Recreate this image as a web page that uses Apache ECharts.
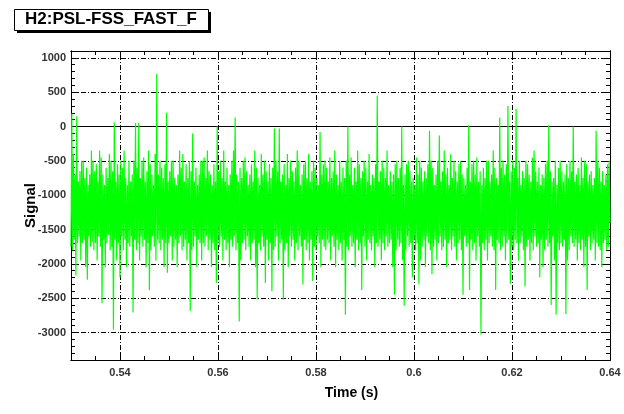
<!DOCTYPE html>
<html>
<head>
<meta charset="utf-8">
<script src="https://cdn.jsdelivr.net/npm/echarts@6/dist/echarts.min.js"></script>
<style>
  html, body { margin: 0; padding: 0; background: #fff; }
  #chart { width: 624px; height: 414px; }
</style>
</head>
<body>
<div id="chart"></div>
<script>
  // time window of the trace (s)
  const tStart = 0.53;
  const tEnd = 0.64;

  // signal samples, evenly spaced from tStart to tEnd
  const signal = [
    -1750, 190, -1800, -400, -1650, -700, -2170, 150, -1700, -800,
    -1600, -650, -1950, -500, -1700, -500, -1650, -750, -2050, -600,
    -2230, -850, -1600, -700, -1750, -350, -1680, -500, -1800, -650,
    -1700, -550, -1950, -800, -1600, -350, -1750, -450, -2570, -700,
    -1650, -850, -2050, -600, -1700, -750, -1580, -400, -1800, -500,
    -1750, -650, -2960, 60, -1650, -800, -1950, -550, -1700, -700,
    -2200, -500, -1600, -600, -1800, -350, -1650, -750, -2050, -850,
    -1700, -500, -1750, -800, -1600, -700, -2710, -500, -1650, 50,
    -1800, -600, -1700, 50, -1950, -750, -1600, -500, -1750, -450,
    -1650, -800, -2050, -650, -1700, -350, -2380, -550, -1800, -700,
    -1600, -850, -1750, -400, -1950, 770, -1650, -700, -1700, -500,
    -1800, -600, -1650, -750, -2050, -550, -1700, 200, -2130, -800,
    -1700, -650, -1600, -500, -1950, -500, -1750, -750, -1650, -850,
    -2050, -700, -1700, -350, -1600, -600, -1800, -400, -1750, -800,
    -1650, -550, -1950, -750, -1700, -500, -2690, -650, -1800, -100,
    -1750, -800, -1600, -600, -2050, -850, -1650, -700, -1700, -500,
    -1950, -500, -1700, -450, -1750, -750, -1600, -350, -1800, -650,
    -1650, -700, -2050, -850, -1700, -550, -1800, -800, -2280, 0,
    -1700, -650, -1750, -500, -1600, -750, -1950, -350, -1650, -800,
    -1800, -600, -1700, -850, -2050, -700, -1650, -500, -1750, -350,
    -1600, 130, -1800, -700, -1700, -800, -2840, -600, -1950, -750,
    -1700, -500, -1650, -450, -1800, -650, -1600, -850, -1750, -700,
    -1950, -550, -1700, -800, -1650, -350, -2050, -600, -2520, -750,
    -1700, -850, -1800, -400, -1600, -700, -1750, -500, -2280, -650,
    -1650, -800, -1950, -550, -1700, -750, -2400, -600, -1800, -30,
    -1750, -500, -1600, -650, -1950, -30, -1700, -800, -1650, -700,
    -2520, -550, -1800, -850, -1700, -400, -2050, -750, -1600, -500,
    -1750, -650, -1650, -800, -1950, -600, -1700, -350, -1800, -500,
    -1600, -850, -1750, -700, -2300, -550, -1650, -500, -1800, -750,
    -1700, -400, -1950, -800, -1650, -650, -2250, -500, -1750, -600,
    -1800, -750, -1600, -850, -1700, -80, -2050, -700, -1650, -550,
    -1750, -500, -1800, -600, -1650, -800, -1700, -450, -1950, -750,
    -1600, -650, -1750, -350, -2050, -700, -1650, -850, -1800, -500,
    -1700, -800, -1950, -600, -1650, -750, -2740, -500, -1750, 0,
    -1800, -700, -1600, -450, -1750, -850, -1700, -600, -2050, -800,
    -1650, -350, -1800, -550, -1700, -750, -2380, -650, -1600, -500,
    -1750, -600, -1950, -800, -1650, -400, -1700, -850, -1800, -700,
    -1600, -750, -2050, -550, -1700, 450, -1750, -800, -1650, -650,
    -1950, -500, -1700, -600, -1800, -750, -1600, -350, -1750, -850,
    -1700, -650, -1650, -800, -2050, -700, -2450, -550, -1800, -500,
    -1650, -750, -1750, -600, -1700, 0, -1950, -850, -2610, -700,
    -1800, -550, -1600, -500, -1750, -650, -1700, -800, -2200, -750,
    -1650, -850, -1800, -450, -1700, -700, -2300, -500, -1950, -600,
    -1750, -800, -1650, -650, -2050, -750, -1600, -550, -1700, -60,
    -1800, -500, -2150, -600, -1750, -850, -1650, -700, -1950, -500,
    -1700, -130, -1600, -800, -1800, -650, -1750, -350, -1650, -700,
    -2050, -600, -1700, -850, -1650, -400, -1800, -750, -1600, -500,
    -1750, -650, -1950, -800, -1700, -550, -1650, -500, -1800, -700,
    -2450, -750, -1600, -850, -1750, -600, -1700, 20, -2380, -800,
    -1650, -550, -1800, -500, -1700, -700, -1950, -450, -1600, -800,
    -1750, -650, -3030, -850, -1700, -600, -1800, -750, -1650, -500,
    -1950, -500, -1700, -800, -1600, -700, -1750, -350, -1800, -600,
    -2380, -750, -1650, -850, -1700, 130, -1800, -600, -1750, -500,
    -1600, -700, -1950, -550, -1700, 300, -1650, -800, -2290, -650,
    -1750, -500, -1800, -600, -1650, 260, -1700, -750, -1950, -500,
    -1700, -850, -1600, -650, -1800, -750, -2330, -500, -1750, -550,
    -1650, -700, -1950, -800, -1700, -450, -1800, -350, -1600, -650,
    -1750, -800, -1700, -600, -2200, -850, -1650, -700, -2050, -750,
    -1800, -550, -1650, -500, -1750, 20, -1700, -650, -2600, -800,
    -1600, -750, -1950, -500, -2740, -850, -1700, -600, -1800, -500,
    -1700, -650, -1750, -800, -1650, -700, -2730, -550, -1950, -750,
    -1800, -500, -1600, -650, -1700, 0, -1750, -800, -1650, -700,
    -1950, -600, -1700, -850, -1800, -450, -1650, -750, -2050, -500,
    -1750, -550, -2380, -800, -1600, -700, -1800, -650, -1700, -850,
    -1650, -750, -1950, -60, -1700, -500, -1750, -600, -1800, -800,
    -2050, -650, -1700, -850, -1650, -700, -1800, -550, -1750, -500,
    -1400
  ];

  // axis ticks / labels
  const xLabels = [0.54, 0.56, 0.58, 0.6, 0.62, 0.64];
  const xMajor = [0.54, 0.56, 0.58, 0.6, 0.62];
  const xMinor = [0.535, 0.54, 0.545, 0.55, 0.555, 0.56, 0.565, 0.57, 0.575, 0.58,
                  0.585, 0.59, 0.595, 0.6, 0.605, 0.61, 0.615, 0.62, 0.625, 0.63, 0.635];
  const yLabels = [-3000, -2500, -2000, -1500, -1000, -500, 0, 500, 1000];
  const yMinor = [-3300, -3200, -3100, -3000, -2900, -2800, -2700, -2600, -2500, -2400,
                  -2300, -2200, -2100, -2000, -1900, -1800, -1700, -1600, -1500, -1400,
                  -1300, -1200, -1100, -1000, -900, -800, -700, -600, -500, -400,
                  -300, -200, -100, 0, 100, 200, 300, 400, 500, 600, 700, 800, 900, 1000];

  const yMin = -3400;
  const yMax = 1100;

  const font = 'Liberation Sans, Arial, Helvetica, sans-serif';
  const dashed = [5, 2, 1, 2];

  const myChart = echarts.init(document.getElementById('chart'), null, { renderer: 'canvas' });

  const dt = (tEnd - tStart) / (signal.length - 1);
  const points = signal.map((v, i) => [tStart + i * dt, v]);

  function xAxisDef(pos, values, len, labels) {
    return {
      type: 'value', position: pos, min: tStart, max: tEnd,
      axisLine: { show: true, onZero: false, lineStyle: { color: '#000', width: 1 } },
      axisTick: { show: true, inside: true, length: len, customValues: values,
        lineStyle: { color: '#000', width: 1 } },
      axisLabel: labels ? {
        show: true, customValues: labels, margin: 7,
        color: '#333', fontSize: 11, fontWeight: 'bold', fontFamily: font,
        formatter: (v) => String(+v.toFixed(2)),
      } : { show: false },
      splitLine: { show: false },
    };
  }

  function yAxisDef(pos, values, len, labels) {
    return {
      type: 'value', position: pos, min: yMin, max: yMax,
      axisLine: { show: true, onZero: false, lineStyle: { color: '#000', width: 1 } },
      axisTick: { show: true, inside: true, length: len, customValues: values,
        lineStyle: { color: '#000', width: 1 } },
      axisLabel: labels ? {
        show: true, customValues: labels, margin: 5,
        color: '#333', fontSize: 11, fontWeight: 'bold', fontFamily: font,
        formatter: (v) => String(v),
      } : { show: false },
      splitLine: { show: false },
    };
  }

  const xa = xAxisDef('bottom', xMinor, 4, xLabels);
  xa.name = 'Time (s)';
  xa.nameLocation = 'middle';
  xa.nameGap = 26;
  xa.nameMoveOverlap = false;
  xa.nameTextStyle = { fontSize: 14, fontWeight: 'bold', color: '#000', fontFamily: font, padding: [0, 0, 0, 22] };

  const ya = yAxisDef('left', yMinor, 4, yLabels);
  ya.name = 'Signal';
  ya.nameLocation = 'middle';
  ya.nameGap = 33;
  ya.nameMoveOverlap = false;
  ya.nameTextStyle = { fontSize: 15, fontWeight: 'bold', color: '#000', fontFamily: font };

  const gridLines = [];
  yLabels.forEach((v) => {
    if (v === 0) {
      gridLines.push({ yAxis: v, lineStyle: { type: 'solid', color: '#000', width: 1 } });
    } else {
      gridLines.push({ yAxis: v });
    }
  });
  xMajor.forEach((v) => gridLines.push({ xAxis: v }));

  const option = {
    backgroundColor: '#fff',
    animation: false,
    grid: { left: 71, right: 14, top: 51, bottom: 54 },
    xAxis: [
      xa,
      xAxisDef('bottom', xMajor, 8, null),
      xAxisDef('top', xMinor, 4, null),
      xAxisDef('top', xMajor, 8, null),
    ],
    yAxis: [
      ya,
      yAxisDef('left', yLabels, 8, null),
      yAxisDef('right', yMinor, 4, null),
      yAxisDef('right', yLabels, 8, null),
    ],
    graphic: [
      { type: 'rect', left: 17, top: 12, z: 10,
        shape: { width: 194, height: 21 }, style: { fill: '#000' } },
      { type: 'rect', left: 14, top: 9, z: 11,
        shape: { width: 194, height: 21 }, style: { fill: '#fff', stroke: '#000', lineWidth: 1 } },
      { type: 'text', left: 25, top: 11, z: 12,
        style: { text: 'H2:PSL-FSS_FAST_F', font: 'bold 17px ' + font, fill: '#000' } },
    ],
    series: [
      {
        name: 'grid', type: 'line', data: [], z: 1,
        markLine: {
          silent: true, symbol: 'none', animation: false, z: 1,
          label: { show: false },
          lineStyle: { type: dashed, color: '#000', width: 1 },
          data: gridLines,
        },
      },
      {
        name: 'H2:PSL-FSS_FAST_F', type: 'line', data: points, z: 3,
        showSymbol: false, sampling: null,
        lineStyle: { color: '#00ff00', width: 1.2 },
      },
    ],
  };

  myChart.setOption(option, true);

  window.onresize = function() {
    myChart.resize();
  };
</script>
</body>
</html>
